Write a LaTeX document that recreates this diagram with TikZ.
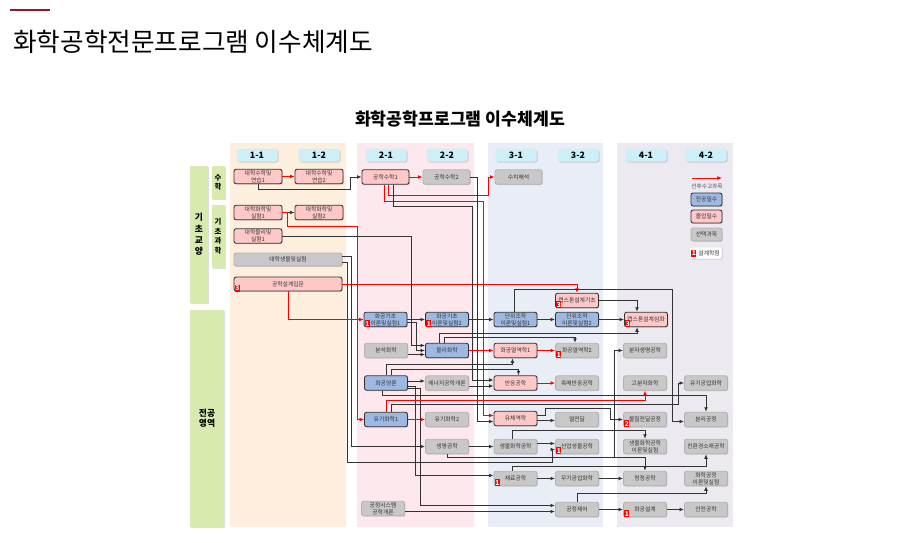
\documentclass[tikz,border=0pt]{standalone}
\usepackage{fontspec}
\setmainfont{Noto Sans CJK KR}
\usetikzlibrary{arrows.meta,calc,shadows}

\definecolor{peach}{HTML}{FDEEDD}
\definecolor{blush}{HTML}{FDE8EE}
\definecolor{mist}{HTML}{E9EEF6}
\definecolor{lilac}{HTML}{ECE9F0}
\definecolor{sky}{HTML}{CDEFF8}
\definecolor{leaf}{HTML}{D8EAAE}
\definecolor{majreq}{HTML}{9DB9E2}
\definecolor{gradreq}{HTML}{FFC8C8}
\definecolor{elective}{HTML}{C8C8C8}
\definecolor{wine}{HTML}{8C1B2F}

\newcommand{\credit}[3]{%
  \node[badge, anchor=south west] (#1) at ($(#2.south west)+(1,0.5)$) {#3};}

\begin{document}
\begin{tikzpicture}[x=0.02cm, y=-0.02cm,
    course/.style={draw=black!80, line width=0.5pt, rounded corners=1.2pt,
                   minimum width=0.86cm, minimum height=0.29cm, inner sep=0.4pt,
                   align=center, text=black!80, font=\fontsize{3.3}{3.8}\selectfont,
                   drop shadow={shadow xshift=0.5pt, shadow yshift=-0.5pt, opacity=0.3}},
    major/.style={course, fill=majreq},
    grad/.style={course, fill=gradreq},
    elect/.style={course, fill=elective, draw=black!30},
    term/.style={fill=sky, rounded corners=1pt, minimum width=0.82cm,
                 minimum height=0.26cm, inner sep=0pt,
                 font=\fontsize{5}{6}\bfseries\selectfont,
                 drop shadow={shadow xshift=0.6pt, shadow yshift=-0.6pt, opacity=0.3}},
    area/.style={fill=leaf, inner sep=0pt, align=center,
                 drop shadow={shadow xshift=0.8pt, shadow yshift=-0.8pt, opacity=0.25}},
    badge/.style={fill=red, text=white, inner sep=0pt, minimum width=0.1cm,
                  minimum height=0.14cm, font=\fontsize{3.8}{4}\bfseries\selectfont},
    link/.style={draw=black!80, line width=0.55pt, -{Latex[length=2.6pt,width=2.2pt]}},
    prereq/.style={link, draw=red, line width=0.45pt}
  ]
  \useasboundingbox (0,0) rectangle (915,542);

  % Page heading
  \draw[wine, line width=1.1pt] (10,10) -- (50,10);
  \node[anchor=west, font=\fontsize{14.6}{16}\selectfont] (title) at (7,42)
    {화학공학전문프로그램 이수체계도};
  \node[font=\fontsize{9.8}{11}\bfseries\selectfont] (head) at (460,119)
    {화학공학프로그램 이수체계도};

  % Year panels
  \fill[peach] (230,143) rectangle (346,527);
  \fill[blush] (357,143) rectangle (474,527);
  \fill[mist]  (488,143) rectangle (603,527);
  \fill[lilac] (617,143) rectangle (733,527);

  % Semesters
  \node[term] (s11) at (257,155) {1-1};
  \node[term] (s12) at (319,155) {1-2};
  \node[term] (s21) at (386,155) {2-1};
  \node[term] (s22) at (447,155) {2-2};
  \node[term] (s31) at (516,155) {3-1};
  \node[term] (s32) at (578,155) {3-2};
  \node[term] (s41) at (646,155) {4-1};
  \node[term] (s42) at (706,155) {4-2};

  % Areas
  \node[area, minimum width=0.36cm, minimum height=2.74cm,
        font=\fontsize{5}{6.5}\bfseries\selectfont] (gen) at (199,234.5) {기\\초\\교\\양};
  \node[area, minimum width=0.26cm, minimum height=0.66cm,
        font=\fontsize{4.2}{5.1}\bfseries\selectfont] (mathA) at (218,182) {수\\학};
  \node[area, minimum width=0.26cm, minimum height=1.26cm,
        font=\fontsize{4.2}{5.4}\bfseries\selectfont] (sciA) at (218,236) {기\\초\\과\\학};
  \node[area, minimum width=0.68cm, minimum height=4.34cm,
        font=\fontsize{5}{5.8}\bfseries\selectfont] (majA) at (207,418.5) {전공\\영역};

  % Courses, year 1
  \node[grad, minimum width=0.96cm] (m1) at (258,176.5) {대학수학및\\연습1};
  \node[grad, minimum width=0.96cm] (m2) at (319,176.5) {대학수학및\\연습2};
  \node[grad, minimum width=0.96cm] (ch1) at (258,212.5) {대학화학및\\실험1};
  \node[grad, minimum width=0.96cm] (ch2) at (319,212.5) {대학화학및\\실험2};
  \node[grad, minimum width=0.96cm] (ph1) at (258,236) {대학물리및\\실험1};
  \node[elect, minimum width=2.16cm, minimum height=0.26cm] (bio) at (288,259.5) {대학생물및실험};
  \node[grad, minimum width=2.16cm, minimum height=0.28cm] (des) at (288,284) {공학설계입문};

  % Courses, year 2
  \node[grad, minimum width=0.94cm] (em1) at (385.5,177) {공학수학1};
  \node[elect, minimum width=0.94cm] (em2) at (446.5,177) {공학수학2};
  \node[major] (ce1) at (385.5,319.5) {화공기초\\이론및실험1};
  \node[major] (ce2) at (447,319.5) {화공기초\\이론및실험2};
  \node[elect] (an) at (386,350.5) {분석화학};
  \node[major] (pchem) at (447,350.5) {물리화학};
  \node[major] (ms) at (386,383) {화공양론};
  \node[elect] (en) at (447,383) {에너지공학개론};
  \node[major] (oc1) at (386,419.5) {유기화학1};
  \node[elect] (oc2) at (447,419.5) {유기화학2};
  \node[elect] (bt) at (447,446.5) {생명공학};
  \node[elect] (ps) at (383,508.5) {공정시스템\\공학개론};

  % Courses, year 3
  \node[elect, minimum width=0.94cm] (na) at (518.5,177) {수치해석};
  \node[major] (uo1) at (515.5,319.5) {단위조작\\이론및실험1};
  \node[grad] (th1) at (515.5,350.5) {화공열역학1};
  \node[grad] (re) at (515.5,383) {반응공학};
  \node[grad] (fl) at (515.5,418.5) {유체역학};
  \node[elect] (bce) at (515.5,446.5) {생물화학공학};
  \node[elect] (mat) at (515.5,478.5) {재료공학};
  \node[grad] (cap1) at (577,300.5) {캡스톤설계기초};
  \node[major] (uo2) at (577,319.5) {단위조작\\이론및실험2};
  \node[elect] (th2) at (577,350.5) {화공열역학2};
  \node[elect] (cat) at (577,383) {촉매반응공학};
  \node[elect] (ht) at (577,419.5) {열전달};
  \node[elect] (ibio) at (577,446.5) {산업생물공학};
  \node[elect] (ic) at (577,478.5) {무기공업화학};
  \node[elect] (pc) at (577,509.5) {공정제어};

  % Courses, year 4
  \node[grad] (cap2) at (646,319.5) {캡스톤설계심화};
  \node[elect] (mb) at (645,350.5) {분자생명공학};
  \node[elect] (poly) at (645,383) {고분자화학};
  \node[elect] (mt) at (645,419.5) {물질전달공정};
  \node[elect] (bcl) at (645,446.5) {생물화학공학\\이론및실험};
  \node[elect] (cl) at (645,478.5) {청정공학};
  \node[elect] (dsn) at (645,509.5) {화공설계};
  \node[elect] (oi) at (706,383) {유기공업화학};
  \node[elect] (sep) at (706,419.5) {분리공정};
  \node[elect] (eco) at (706,446.5) {친환경소재공학};
  \node[elect] (cpl) at (706,478.5) {화학공정\\이론및실험};
  \node[elect] (safe) at (706,509.5) {안전공학};

  % Design credits
  \credit{k1}{des}{3}
  \credit{k2}{ce1}{1}
  \credit{k3}{ce2}{1}
  \credit{k4}{cap1}{3}
  \credit{k5}{cap2}{3}
  \credit{k6}{th2}{1}
  \credit{k7}{mt}{2}
  \credit{k8}{ibio}{1}
  \credit{k9}{mat}{1}
  \credit{k10}{dsn}{1}

  % Legend
  \coordinate (lgA) at (692,178);
  \coordinate (lgB) at (722,178);
  \draw[prereq] (lgA) -- (lgB);
  \node[font=\fontsize{3.2}{4}\selectfont, text=black!70] (lgtext) at (707,186) {선후수고과목};
  \node[major, minimum width=0.62cm, minimum height=0.26cm] (lgmaj) at (706.5,199.5) {전공필수};
  \node[grad, minimum width=0.62cm, minimum height=0.26cm] (lggrad) at (706.5,216.5) {졸업필수};
  \node[elect, minimum width=0.62cm, minimum height=0.26cm] (lgel) at (706.5,234.5) {선택과목};
  \node[course, fill=white, draw=black!10, minimum width=0.64cm,
        minimum height=0.24cm] (lgcr) at (706,253) {\hspace{3.5pt}설계학점};
  \node[badge, anchor=west] (lgb) at ($(lgcr.west)+(1.5,0)$) {1};

  % Basic courses
  \draw[prereq] (m1) -- (m2);
  \draw[link] (m1.south) |- (350,189) |- (em1.west);
  \draw[link] (ch1) -- (ch2);
  \draw[prereq] (ch1.east) -| (287,226) -- (357,226) |- (oc1.west);
  \draw[link] (ph1.east) -| (411,345.5) -- ($(pchem.west)+(0,-5)$);
  \draw[link] ($(bio.east)+(0,-3)$) -| (351,446.5) -- (bt.west);
  \draw[link] ($(bio.east)+(0,3)$) -| (347,462) -- (552,462) |- ($(ibio.west)+(0,3)$);
  \draw[prereq] (des.east) -| (cap1.north);
  \draw[prereq] (des.south) |- (ce1.west);

  % Engineering mathematics
  \draw[prereq] (em1) -- (em2);
  \draw[prereq] ($(em1.south)+(3,0)$) |- (488,195) |- (na.west);
  \draw[prereq] ($(em1.south)+(-1,0)$) |- (483,201) |- ($(fl.west)+(0,-3)$);
  \draw[link] ($(em1.south)+(8,0)$) |- (472,206) |- ($(re.west)+(0,-3)$);
  \draw[link] (em2.east) -| (477,421.5) -- ($(fl.west)+(0,3)$);

  % Core sequence
  \draw[link] (ce1) -- (ce2);
  \draw[link] ($(ce1.east)+(0,3)$) -| (416,350.5) -- (pchem.west);
  \draw[link] ($(an.east)+(0,4)$) -- ($(pchem.west)+(0,4)$);
  \draw[link] (ce2) -- (uo1);
  \draw[link] (uo1) -- (uo2);
  \draw[link] (uo2) -- (cap2);
  \draw[link] (cap1.east) -| ($(cap2.north)+(-9,0)$);
  \draw[link] ($(uo1.north)+(-1,0)$) |- (672,289) |- ($(sep.west)+(0,2)$);
  \draw[link] ($(pchem.north)+(-8,0)$) |- ($(cap2.south)+(-9,6)$) -- ($(cap2.south)+(-9,0)$);
  \draw[link] ($(pchem.north)+(-3,0)$) |- ($(th2.north)+(-2,-5)$) -- ($(th2.north)+(-2,0)$);
  \draw[prereq] (pchem) -- (th1);
  \draw[prereq] (th1) -- (th2);

  % Mass balance
  \draw[link] (ms.north) |- ($(th1.south)+(-3,6)$) -- ($(th1.south)+(-3,0)$);
  \draw[link] ($(ms.north)+(5,0)$) |- ($(re.north)+(3,-6)$) -- ($(re.north)+(3,0)$);
  \draw[link] ($(ms.east)+(0,-2)$) -- ($(en.west)+(0,-2)$);
  \draw[link] ($(en.east)+(0,3)$) -- ($(re.west)+(0,3)$);
  \draw[link] ($(ms.east)+(0,3)$) -| (415,475.5) -- ($(mat.west)+(0,-3)$);
  \draw[link] ($(ms.east)+(0,5.5)$) -| (420,505.5) -- ($(pc.west)+(0,-4)$);
  \draw[link] ($(ms.south)+(-4,0)$) |- ($(sep.north)+(0,-16)$) -- (sep.north);
  \draw[prereq] (re) -- (cat);

  % Organic
  \draw[prereq] (oc1) -- (oc2);
  \draw[prereq] (oc1.north) |- ($(poly.south)+(0,10)$) -- (poly.south);
  \draw[link] ($(oc1.north)+(5,0)$) |- (678,404.5) |- (oi.west);

  % Transport
  \draw[link] ($(fl.east)+(0,2)$) -- ($(ht.west)+(0,1)$);
  \draw[link] ($(fl.east)+(0,-3)$) -| (545,408) -- (610,408) |- (mt.west);

  % Bio and materials
  \draw[link] (bt) -- (bce);
  \draw[link] ($(bce.east)+(0,-3)$) -- ($(ibio.west)+(0,-3)$);
  \draw[link] ($(bce.north)+(-3,0)$) |- ($(bcl.north)+(0,-8)$) -- (bcl.north);
  \draw[link] (bt.south) |- ($(cl.north)+(0,-13)$) -- (cl.north);
  \coordinate (fork) at (614,458);
  \draw[link] (fork) |- (mb.west);
  \draw[link] ($(mat.north)+(-3,0)$) |- ($(eco.south)+(0,12)$) -- (eco.south);
  \draw[link] (mat) -- (ic);
  \draw[link] (ic) -- (cl);

  % Process
  \draw[link] ($(ps.east)+(0,3)$) -- ($(pc.west)+(0,2)$);
  \draw[link] (pc) -- (dsn);
  \draw[link] (pc.north) |- ($(cpl.south)+(0,7)$) -- (cpl.south);
  \draw[link] (dsn) -- (safe);
\end{tikzpicture}
\end{document}
